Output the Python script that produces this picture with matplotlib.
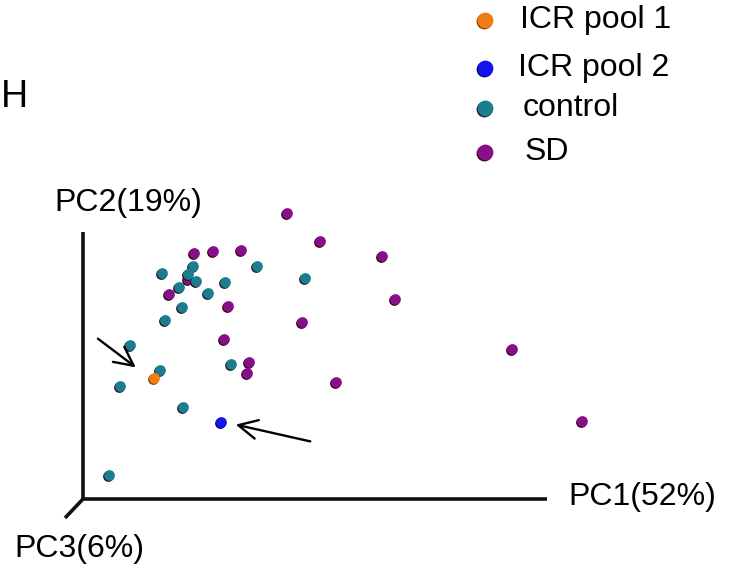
import matplotlib.pyplot as plt
import numpy as np

plt.rcParams['font.family'] = ['Liberation Sans', 'DejaVu Sans']

# PCA scores (projected, origin of the axes at 0,0)
sd_pc1 = [204, 237, 299, 312, 111, 130, 158, 105, 86, 145, 219, 141, 166, 164, 253, 429, 499]
sd_pc2 = [286, 258, 243, 200, 246, 248, 249, 220, 205, 193, 177, 160, 137, 126, 117, 150, 78]

ctrl_pc1 = [110, 79, 105, 113, 96, 125, 142, 174, 222, 99, 82, 47, 77, 37, 148, 100, 26]
ctrl_pc2 = [233, 226, 225, 218, 212, 206, 217, 233, 221, 192, 179, 154, 129, 113, 135, 92, 24]

icr1_pc1 = [71]
icr1_pc2 = [121]
icr2_pc1 = [138]
icr2_pc2 = [77]

groups = ['ICR pool 1', 'ICR pool 2', 'control', 'SD']
colors = ['#f07d12', '#1414f0', '#1a7e8e', '#85108a']
shadows = ['#8a3a00', '#000070', '#2a1020', '#3a0010']

fig = plt.figure(figsize=(7.33, 5.70), dpi=100)
ax = fig.add_axes([0, 0, 1, 1])
ax.set_xlim(-83, 650)
ax.set_ylim(-71, 499)
ax.axis('off')


def dots(x, y, c, sh, s=60):
    x = np.array(x, dtype=float)
    y = np.array(y, dtype=float)
    ax.scatter(x - 1.0, y - 1.2, s=s, color=sh, linewidths=0, zorder=3)
    ax.scatter(x, y, s=s, color=c, linewidths=0, zorder=3)


dots(sd_pc1, sd_pc2, colors[3], shadows[3])
dots(ctrl_pc1, ctrl_pc2, colors[2], shadows[2])
dots(icr1_pc1, icr1_pc2, colors[0], shadows[0])
dots(icr2_pc1, icr2_pc2, colors[1], shadows[1])

# pseudo 3D axes
ax.plot([0, 0], [0, 267], color='#111111', lw=2.6, solid_capstyle='butt')
ax.plot([0, 464], [0, 0], color='#111111', lw=2.6, solid_capstyle='butt')
ax.plot([0, -18], [0, -19], color='#111111', lw=2.6, solid_capstyle='butt')

fs = 23
ax.text(-29, 296, 'PC2(19%)', fontsize=fs, ha='left', va='center')
ax.text(485, 2, 'PC1(52%)', fontsize=fs, ha='left', va='center')
ax.text(-69, -50, 'PC3(6%)', fontsize=fs, ha='left', va='center')
ax.text(-82, 402, 'H', fontsize=27, ha='left', va='center')

# arrows pointing at the ICR pools
ax.annotate('', xy=(55, 130), xytext=(12.7, 162),
            arrowprops=dict(arrowstyle='->', lw=1.7, color='black', mutation_scale=34))
ax.annotate('', xy=(150, 75), xytext=(230, 57),
            arrowprops=dict(arrowstyle='->', lw=1.7, color='black', mutation_scale=34))

# legend
leg_y = [479, 431, 391, 347]
leg_tx = [437, 435, 440, 442]
for i in range(4):
    dots([402], [leg_y[i]], colors[i], shadows[i], s=130)
    ax.text(leg_tx[i], leg_y[i], groups[i], fontsize=fs, ha='left', va='center')

plt.savefig('out.png')
